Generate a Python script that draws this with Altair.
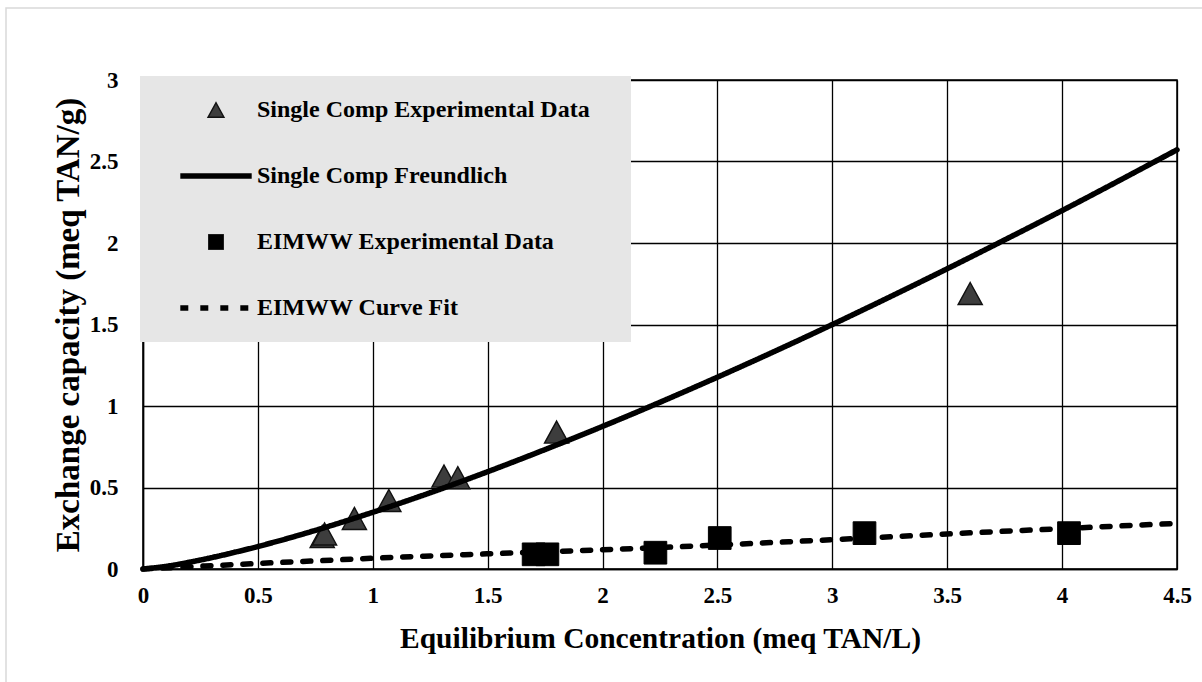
import altair as alt
import pandas as pd

series_names = [
    "Single Comp Experimental Data",
    "Single Comp Freundlich",
    "EIMWW Experimental Data",
    "EIMWW Curve Fit",
]

# Single component experimental data (triangles)
single_exp_x = [0.78, 0.79, 0.92, 1.07, 1.31, 1.37, 1.80, 3.60]
single_exp_y = [0.20, 0.215, 0.31, 0.42, 0.57, 0.56, 0.84, 1.69]

# EIMWW experimental data (squares)
eimww_exp_x = [1.70, 1.76, 2.23, 2.51, 3.14, 4.03]
eimww_exp_y = [0.09, 0.09, 0.10, 0.19, 0.22, 0.22]

# Single component Freundlich curve
freund_x = [0, 0.1, 0.25, 0.5, 0.75, 1.0, 1.25, 1.5, 1.75, 2.0, 2.25, 2.5,
            2.75, 3.0, 3.25, 3.5, 3.75, 4.0, 4.25, 4.5]
freund_y = [0, 0.016, 0.055, 0.138, 0.237, 0.348, 0.468, 0.597, 0.733, 0.875, 1.023,
            1.177, 1.336, 1.50, 1.669, 1.842, 2.019, 2.199, 2.384, 2.572]

# EIMWW curve fit
fit_x = [0, 0.25, 0.5, 0.75, 1.0, 1.5, 2.0, 2.5, 3.0, 3.5, 4.0, 4.5]
fit_y = [0, 0.017, 0.034, 0.050, 0.066, 0.093, 0.118, 0.147, 0.180, 0.215, 0.248, 0.280]

x_ticks = [0, 0.5, 1, 1.5, 2, 2.5, 3, 3.5, 4, 4.5]
y_ticks = [0, 0.5, 1, 1.5, 2, 2.5, 3]

tri_df = pd.DataFrame({"x": single_exp_x, "y": single_exp_y, "series": series_names[0]})
sq_df = pd.DataFrame({"x": eimww_exp_x, "y": eimww_exp_y, "series": series_names[2]})
line_df = pd.concat([
    pd.DataFrame({"x": freund_x, "y": freund_y, "series": series_names[1]}),
    pd.DataFrame({"x": fit_x, "y": fit_y, "series": series_names[3]}),
])

TRI = "M0,-1.04L1.14,1.04L-1.14,1.04Z"
SQ = "M-1.07,-1.07H1.07V1.07H-1.07Z"
LINE = "M-5.1,0H5.1"

shape_scale = alt.Scale(type="ordinal", domain=series_names, range=[TRI, LINE, SQ, LINE])
fill_scale = alt.Scale(type="ordinal", domain=series_names,
                       range=["#3d3d3d", "#000000", "#000000", "#000000"])
stroke_scale = alt.Scale(type="ordinal", domain=series_names,
                         range=["#111111", "#000000", "#000000", "#000000"])
sw_scale = alt.Scale(type="ordinal", domain=series_names, range=[1.4, 5.5, 1, 5.5])
dash_scale = alt.Scale(type="ordinal", domain=series_names,
                       range=[[1, 0], [1, 0], [1, 0], [8, 12]])

FONT = "Liberation Serif"

legend = alt.Legend(
    title=".", titleColor="transparent", titleOrient="right",
    titleFontSize=4, titlePadding=17,
    orient="none", legendX=-3, legendY=-4,
    fillColor="#e6e6e6", padding=22, rowPadding=42,
    symbolSize=196, symbolOffset=42, labelOffset=29,
    labelFont=FONT, labelFontSize=24, labelFontWeight="bold",
    labelColor="#000000", labelLimit=0,
)

x_enc = alt.X("x:Q", scale=alt.Scale(domain=[0, 4.5], nice=False),
              axis=alt.Axis(values=x_ticks, format="~g",
                            title="Equilibrium Concentration (meq TAN/L)",
                            labelPadding=15, titlePadding=17, titleFontSize=29.5))
y_enc = alt.Y("y:Q", scale=alt.Scale(domain=[0, 3], nice=False),
              axis=alt.Axis(values=y_ticks, format="~g",
                            title="Exchange capacity (meq TAN/g)",
                            labelPadding=25, titlePadding=4, titleFontSize=33))

def point_layer(df):
    return alt.Chart(df).mark_point(filled=True, size=450, opacity=1).encode(
        x=x_enc, y=y_enc,
        shape=alt.Shape("series:N", scale=shape_scale, legend=legend),
        fill=alt.Fill("series:N", scale=fill_scale, legend=legend),
        stroke=alt.Stroke("series:N", scale=stroke_scale, legend=legend),
        strokeWidth=alt.StrokeWidth("series:N", scale=sw_scale, legend=legend),
    )

tri_layer = point_layer(tri_df)
sq_layer = point_layer(sq_df)

line_layer = alt.Chart(line_df).mark_line(
    strokeCap="round", strokeJoin="round", interpolate="monotone", strokeWidth=5.5
).encode(
    x=x_enc, y=y_enc,
    stroke=alt.Stroke("series:N", scale=stroke_scale, legend=legend),
    strokeDash=alt.StrokeDash("series:N", scale=dash_scale, legend=legend),
    order=alt.Order("x:Q"),
)

border = alt.Chart(alt.Data(values=[{}])).mark_rect(
    fill="transparent", stroke="#d9d9d9", strokeWidth=1.5
).encode(
    x=alt.value(-137), x2=alt.value(1064),
    y=alt.value(-72), y2=alt.value(610),
)

chart = alt.layer(border, tri_layer, line_layer, sq_layer).properties(
    width=1034, height=489,
    autosize=alt.AutoSizeParams(type="none"),
    padding={"left": 143, "top": 80, "right": 25, "bottom": 113},
    background="white",
).configure_view(
    stroke="#000000", strokeWidth=1.5
).configure_axis(
    domainColor="#000000", domainWidth=1.5,
    gridColor="#000000", gridWidth=1.3, grid=True,
    ticks=False, tickSize=0,
    labelFont=FONT, labelFontSize=23, labelFontWeight="bold", labelColor="#000000",
    titleFont=FONT, titleFontWeight="bold", titleColor="#000000",
    labelFlush=False, labelOverlap=False,
)

chart.save("out.html", embed_options={"renderer": "svg", "actions": False})
